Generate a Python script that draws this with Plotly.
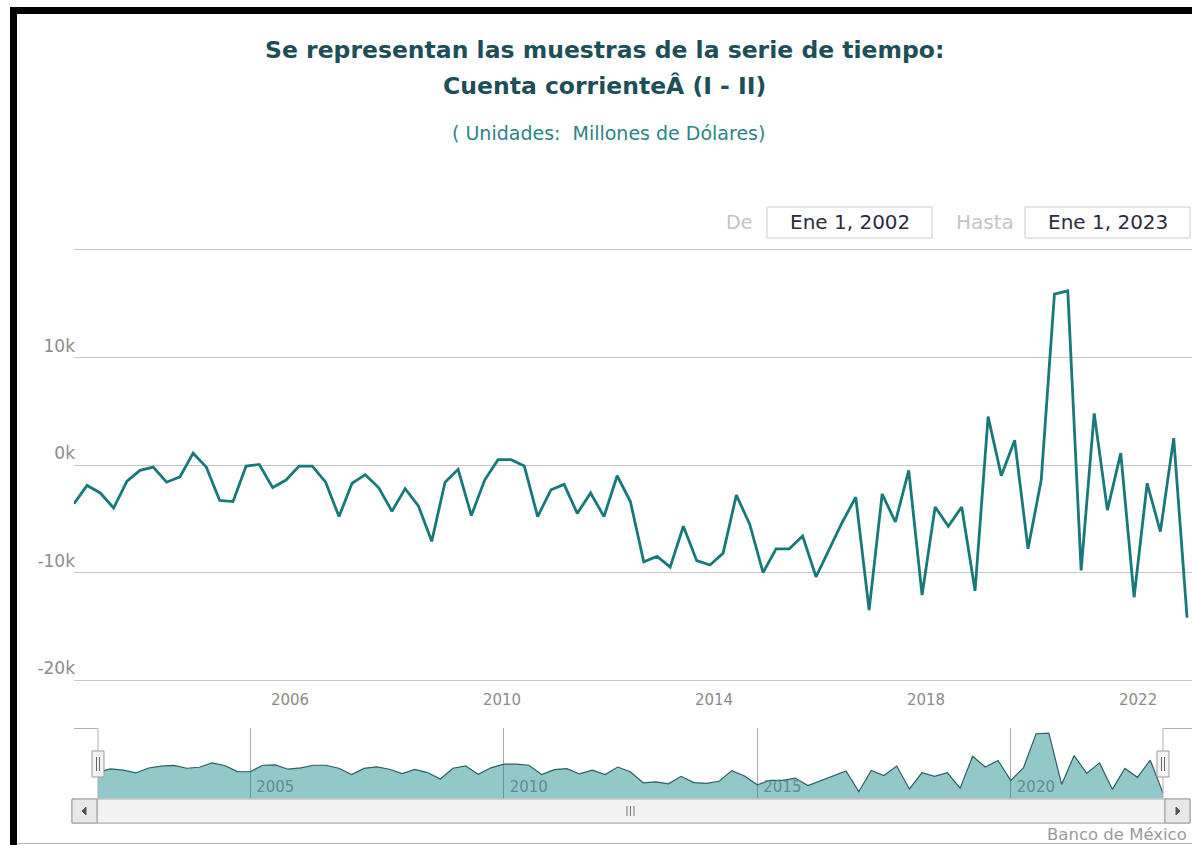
import pandas as pd
import plotly.graph_objects as go

# ---------------- data ----------------
start_date = "2002-01-01"
n_quarters = 85
dates = pd.date_range(start_date, periods=n_quarters, freq="QS")

cuenta_corriente = [
    -3600, -1900, -2600, -4000, -1500, -500, -200, -1600, -1100, 1100,
    -200, -3300, -3400, -100, 50, -2100, -1400, -100, -100, -1600,
    -4800, -1700, -900, -2100, -4300, -2200, -3800, -7100, -1600, -400,
    -4700, -1400, 500, 500, -100, -4800, -2300, -1800, -4500, -2600,
    -4800, -1000, -3400, -9000, -8500, -9500, -5700, -8900, -9300, -8200,
    -2800, -5500, -10000, -7800, -7800, -6600, -10400, -7900, -5300, -3000,
    -13500, -2700, -5300, -500, -12100, -3900, -5700, -3900, -11700, 4500,
    -1000, 2300, -7800, -1400, 15900, 16200, -9800, 4800, -4200, 1100,
    -12300, -1700, -6200, 2500, -14200,
]

y_tickvals = [-20000, -10000, 0, 10000]
y_ticktext = ["-20k", "-10k", "0k", "10k"]
x_tick_years = ["2006-01-01", "2010-01-01", "2014-01-01", "2018-01-01", "2022-01-01"]
x_tick_text = ["2006", "2010", "2014", "2018", "2022"]
nav_tick_years = ["2005-01-01", "2010-01-01", "2015-01-01", "2020-01-01"]
nav_tick_text = ["2005", "2010", "2015", "2020"]
nav_min, nav_max = -16700, 18800

title_line1 = "Se representan las muestras de la serie de tiempo:"
title_line2 = "Cuenta corrienteÂ (I - II)"
subtitle = "( Unidades:  Millones de Dólares)"
from_label, from_value = "De", "Ene 1, 2002"
to_label, to_value = "Hasta", "Ene 1, 2023"
credit = "Banco de México"

# ---------------- layout helpers ----------------
W, H = 1192, 845
def fx(x):
    return x / W
def fy(y):
    return 1 - y / H

LINE = "#17797a"
GRID = "#c6c6c6"
FONT = "DejaVu Sans"

fig = go.Figure()

fig.add_trace(go.Scatter(
    x=dates, y=cuenta_corriente, mode="lines",
    line=dict(color=LINE, width=2.8), xaxis="x", yaxis="y",
    showlegend=False, hoverinfo="skip",
))

# navigator baseline + area
fig.add_trace(go.Scatter(
    x=dates, y=[nav_min] * n_quarters, mode="lines",
    line=dict(width=0, color="rgba(0,0,0,0)"), xaxis="x2", yaxis="y2",
    showlegend=False, hoverinfo="skip",
))
fig.add_trace(go.Scatter(
    x=dates, y=cuenta_corriente, mode="lines", fill="tonexty",
    fillcolor="rgba(30,140,140,0.48)",
    line=dict(color="#2c5f64", width=1.2), xaxis="x2", yaxis="y2",
    showlegend=False, hoverinfo="skip",
))

shapes = []
def rect(x0, y0, x1, y1, fill, line, lw=1):
    shapes.append(dict(type="rect", xref="paper", yref="paper",
                       x0=fx(x0), x1=fx(x1), y0=fy(y1), y1=fy(y0),
                       fillcolor=fill, line=dict(color=line, width=lw), layer="above"))
def seg(x0, y0, x1, y1, color, lw=1):
    shapes.append(dict(type="line", xref="paper", yref="paper",
                       x0=fx(x0), x1=fx(x1), y0=fy(y0), y1=fy(y1),
                       line=dict(color=color, width=lw), layer="above"))
def path(d_pts, fill, color, lw=1):
    d = "M " + " L ".join(f"{fx(x)},{fy(y)}" for x, y in d_pts) + " Z"
    shapes.append(dict(type="path", xref="paper", yref="paper", path=d,
                       fillcolor=fill, line=dict(color=color, width=lw), layer="above"))

# outer dark frame
rect(10, 7, 17, 845, "#000000", "#000000", 0)
rect(10, 7, 1192, 14, "#000000", "#000000", 0)
seg(17, 843.5, 1192, 843.5, "#b5b5b5", 1)

# range selector inputs
rect(767, 207, 932, 238, "#ffffff", "#cccccc")
rect(1025, 207, 1190, 238, "#ffffff", "#cccccc")

# navigator outline
seg(74, 728.5, 98, 728.5, "#b0b0b0")
seg(98, 728.5, 98, 798, "#b0b0b0")
seg(1163, 728.5, 1192, 728.5, "#b0b0b0")
seg(1163, 728.5, 1163, 798, "#b0b0b0")

# scrollbar
rect(72, 799, 1190, 823, "#eeeeee", "#aaaaaa")
rect(97, 799, 1165, 823, "#f2f2f2", "#b0b0b0")
rect(72, 799, 97, 823, "#e8e8e8", "#999999")
rect(1165, 799, 1190, 823, "#e8e8e8", "#999999")
path([(86, 807), (86, 815), (82, 811)], "#555555", "#555555")
path([(1176, 807), (1176, 815), (1180, 811)], "#555555", "#555555")
for gx in (627, 630.5, 634):
    seg(gx, 806, gx, 816, "#777777")

# navigator handles
for cx in (98, 1163):
    rect(cx - 6, 751, cx + 6, 777, "#f4f4f4", "#999999")
    seg(cx - 1.5, 757, cx - 1.5, 771, "#666666")
    seg(cx + 1.5, 757, cx + 1.5, 771, "#666666")

annotations = []
def text(x, y, s, size, color, xanchor="center", weight="normal"):
    annotations.append(dict(xref="paper", yref="paper", x=fx(x), y=fy(y), text=s,
                            showarrow=False, xanchor=xanchor, yanchor="middle",
                            font=dict(family=FONT, size=size, color=color, weight=weight)))

text(604, 50, title_line1, 23.5, "#1d4f58", weight="bold")
text(604, 86, title_line2, 23.5, "#1d4f58", weight="bold")
text(608, 133, subtitle, 19, "#2a8585")
text(754, 222, from_label, 19, "#c4c4c4", xanchor="right")
text(849.5, 222, from_value, 20, "#2b2b40")
text(1016, 222, to_label, 20, "#c4c4c4", xanchor="right")
text(1107.5, 222, to_value, 20, "#2b2b40")
text(1189, 834, credit, 16.5, "#9a9a9a", xanchor="right")

fig.update_layout(
    width=W, height=H,
    margin=dict(l=0, r=0, t=0, b=0),
    paper_bgcolor="#ffffff", plot_bgcolor="#ffffff",
    font=dict(family=FONT),
    showlegend=False,
    shapes=shapes,
    annotations=annotations,
    xaxis=dict(
        domain=[fx(74), 1.0], anchor="y",
        range=["2002-01-01", "2023-02-04"],
        tickvals=x_tick_years, ticktext=x_tick_text,
        showgrid=False, zeroline=False,
        showline=True, mirror=True, linecolor=GRID, linewidth=1,
        ticks="outside", ticklen=6, tickcolor="rgba(0,0,0,0)", ticklabelshift=4,
        tickfont=dict(family=FONT, size=15, color="#8c8c8c"),
    ),
    yaxis=dict(
        domain=[fy(680), fy(250)], anchor="x",
        range=[-20000, 20000],
        tickvals=y_tickvals, ticktext=y_ticktext,
        showgrid=True, gridcolor=GRID, gridwidth=1, zeroline=False,
        ticklabelposition="outside top", ticklabelstandoff=-2,
        tickfont=dict(family=FONT, size=17, color="#8c8c8c"),
    ),
    xaxis2=dict(
        domain=[fx(98), fx(1163)], anchor="y2",
        range=["2002-01-01", "2023-01-01"],
        tickvals=nav_tick_years, ticktext=nav_tick_text,
        showgrid=True, gridcolor="#a8a8a8", gridwidth=1, zeroline=False,
        showline=False, ticks="",
        ticklabelposition="inside right", ticklabelshift=6, ticklabelstandoff=-3,
        tickfont=dict(family=FONT, size=15, color="#5d8c93"),
    ),
    yaxis2=dict(
        domain=[fy(798), fy(728)], anchor="x2",
        range=[nav_min, nav_max],
        visible=False, showgrid=False, zeroline=False,
    ),
)

fig.write_html("out.html", config={"displayModeBar": False},
               post_script="document.body.style.margin='0';")
